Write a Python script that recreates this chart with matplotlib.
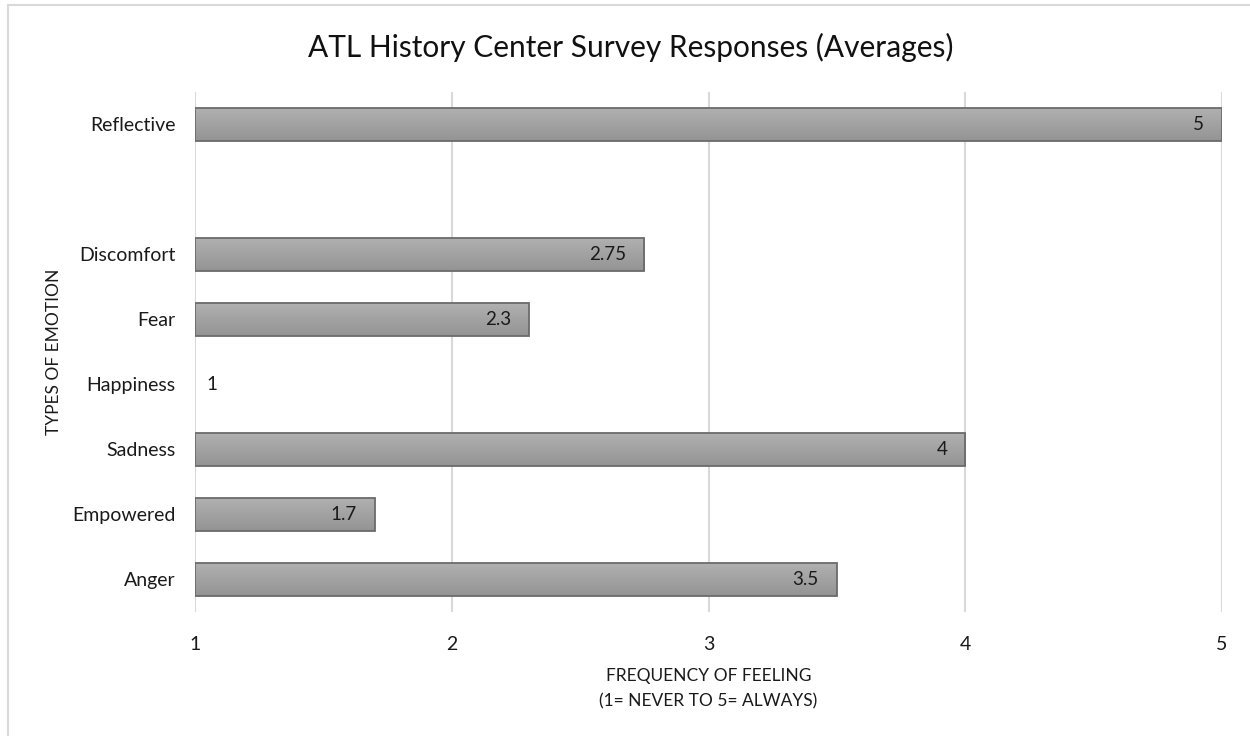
import numpy as np
import matplotlib
matplotlib.use("Agg")
import matplotlib.pyplot as plt
from matplotlib.patches import Rectangle

plt.rcParams["font.family"] = ["Lato", "DejaVu Sans"]

# survey averages, bottom to top; the empty slot leaves a gap above Discomfort
emotions = ["Anger", "Empowered", "Sadness", "Happiness", "Fear", "Discomfort", "", "Reflective"]
averages = [3.5, 1.7, 4.0, 1.0, 2.3, 2.75, None, 5.0]
value_labels = ["3.5", "1.7", "4", "1", "2.3", "2.75", "", "5"]
x_ticks = [1, 2, 3, 4, 5]

fig = plt.figure(figsize=(12.5, 7.36), dpi=100)
ax = fig.add_axes([0.156, 0.1685, 0.8216, 0.7065])

# outer chart border
fig.patches.append(Rectangle((0.0065, -0.01), 1.0, 1.003, transform=fig.transFigure,
                             fill=False, edgecolor="#d9d9d9", linewidth=1.5))

ypos = np.arange(len(emotions))
bar_h = 0.5
grad = np.linspace(0.69, 0.58, 64).reshape(-1, 1)

for y, v, lab in zip(ypos, averages, value_labels):
    if v is None:
        continue
    if v > 1:
        bar = ax.barh(y, v - 1, left=1, height=bar_h, color="none",
                      edgecolor="#6b6b6b", linewidth=1.3, zorder=3)[0]
        im = ax.imshow(grad, cmap="gray", vmin=0, vmax=1, aspect="auto",
                       extent=[1, v, y - bar_h / 2, y + bar_h / 2], zorder=2.5)
        im.set_clip_path(bar)
        ax.text(v - 0.07, y, lab, ha="right", va="center", fontsize=13.5,
                color="#1a1a1a", zorder=4)
    else:
        ax.text(v + 0.045, y, lab, ha="left", va="center", fontsize=13.5,
                color="#1a1a1a", zorder=4)

ax.set_xlim(1, 5)
ax.set_ylim(-0.5, len(emotions) - 0.5)
ax.set_xticks(x_ticks)
ax.set_xticklabels([str(t) for t in x_ticks])
ax.set_yticks(ypos)
ax.set_yticklabels(emotions)
ax.tick_params(length=0, labelsize=14, colors="#1a1a1a")
ax.tick_params(axis="x", pad=17)
ax.tick_params(axis="y", pad=14)
ax.xaxis.grid(True, color="#d9d9d9", linewidth=1.5, zorder=0)
ax.set_axisbelow(True)
for s in ax.spines.values():
    s.set_visible(False)

ax.set_xlabel("FREQUENCY OF FEELING\n(1= NEVER TO 5= ALWAYS)", fontsize=12.5,
              color="#1a1a1a", labelpad=11, linespacing=1.75)
ax.set_ylabel("TYPES OF EMOTION", fontsize=12.5, color="#1a1a1a", labelpad=7)
fig.text(0.505, 0.936, "ATL History Center Survey Responses (Averages)",
         ha="center", va="center", fontsize=21.5, color="#111111")

fig.savefig("out.png", dpi=100)
